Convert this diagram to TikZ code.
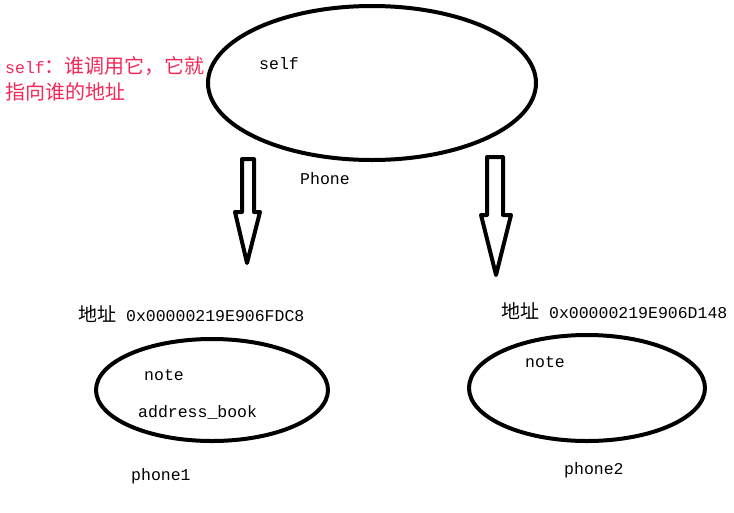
\documentclass[tikz,border=0pt]{standalone}
\usepackage{fontspec}
\setmainfont{Liberation Mono}
\newfontfamily\cjk{Noto Sans CJK SC}
\definecolor{notered}{RGB}{245,40,90}
\newcommand{\lat}{\fontsize{16.5}{20}\selectfont}
\newcommand{\han}[1]{{\cjk\fontsize{19}{20}\selectfont #1}}
\newcommand{\hanbig}[1]{{\cjk\fontsize{20}{20}\selectfont #1}}
\begin{document}
\begin{tikzpicture}[x=1pt,y=-1pt,
  oval/.style={draw,line width=4pt},
  blockarrow/.style={draw,line width=4pt,line join=round,fill=white},
  lbl/.style={inner sep=0pt,anchor=west,font=\lat}]
\useasboundingbox (0,0) rectangle (734,512);
% top ellipse
\draw[oval] (372,83) ellipse [x radius=164, y radius=77];
\node[lbl] (selftxt) at (259,64) {self};
\node[lbl] (phone) at (300,179) {Phone};
% red note
\node[lbl,text=notered] (n1) at (5,66) {self\hanbig{：谁调用它，它就}};
\node[lbl,text=notered] (n2) at (5,92) {\hanbig{指向谁的地址}};
% arrows
\draw[blockarrow] (242,159) -- (242,212) -- (235,212) -- (247,263) -- (260,212) -- (254,212) -- (254,159) -- cycle;
\draw[blockarrow] (487,157) -- (487,215) -- (481,215) -- (496,275) -- (511,215) -- (503,215) -- (503,157) -- cycle;
% left object
\node[lbl] (addr1) at (78,314) {\han{地址} 0x00000219E906FDC8};
\draw[oval] (212,390) ellipse [x radius=116, y radius=51];
\node[lbl] (note1) at (144,375) {note};
\node[lbl] (ab) at (138,412) {address\_book};
\node[lbl] (p1) at (131,476) {phone1};
% right object
\node[lbl] (addr2) at (501,311) {\han{地址} 0x00000219E906D148};
\draw[oval] (587,388) ellipse [x radius=118, y radius=53];
\node[lbl] (note2) at (525,362) {note};
\node[lbl] (p2) at (564,470) {phone2};
\end{tikzpicture}
\end{document}
